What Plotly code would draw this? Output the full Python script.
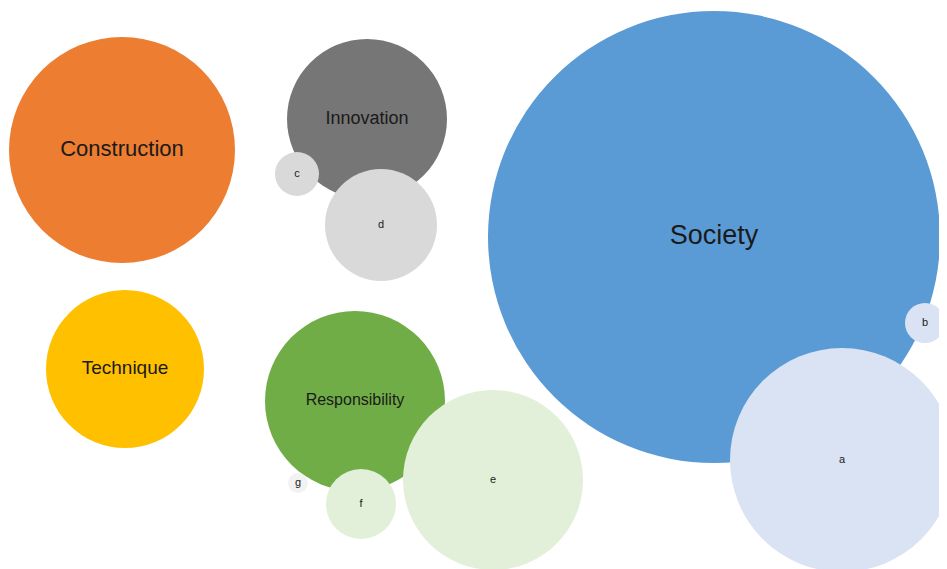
import plotly.graph_objects as go

# Bubble data (centre x, centre y, radius) in chart units
labels = ["Construction", "Technique", "Innovation", "c", "d", "Society", "b", "a",
          "Responsibility", "e", "f", "g"]
cx = [122, 125, 367, 297, 381, 714, 925, 842, 355, 493, 361, 298]
cy = [149, 368, 118, 173, 224, 236, 322, 459, 400, 479, 503, 482]
radius = [113, 79, 80, 22, 56, 226, 20, 112, 90, 90, 35, 10]
colors = ["#ED7D31", "#FFC000", "#767676", "#D9D9D9", "#D9D9D9", "#5B9BD5", "#DAE3F3",
          "#DAE3F3", "#70AD47", "#E2F0D9", "#E2F0D9", "#F2F2F2"]
font_sizes = [22, 19, 18, 11, 11, 27, 11, 11, 16, 11, 11, 11]

shapes = []
for x, y, r, c in zip(cx, cy, radius, colors):
    shapes.append(dict(type="circle", xref="x", yref="y",
                       x0=x - r, x1=x + r, y0=y - r, y1=y + r,
                       fillcolor=c, line=dict(width=0), layer="below"))

fig = go.Figure()
for lab, x, y, fs in zip(labels, cx, cy, font_sizes):
    fig.add_trace(go.Scatter(x=[x], y=[y], mode="text", text=[lab],
                             textfont=dict(family="Liberation Sans, Arial", size=fs, color="#1a1a1a"),
                             hoverinfo="text", showlegend=False))

fig.update_layout(
    width=947, height=569,
    margin=dict(l=0, r=0, t=0, b=0),
    paper_bgcolor="white", plot_bgcolor="white",
    shapes=shapes,
    xaxis=dict(range=[8, 955], visible=False, showgrid=False, zeroline=False),
    yaxis=dict(range=[576, 7], visible=False, showgrid=False, zeroline=False),
)
fig.write_html("out.html")
